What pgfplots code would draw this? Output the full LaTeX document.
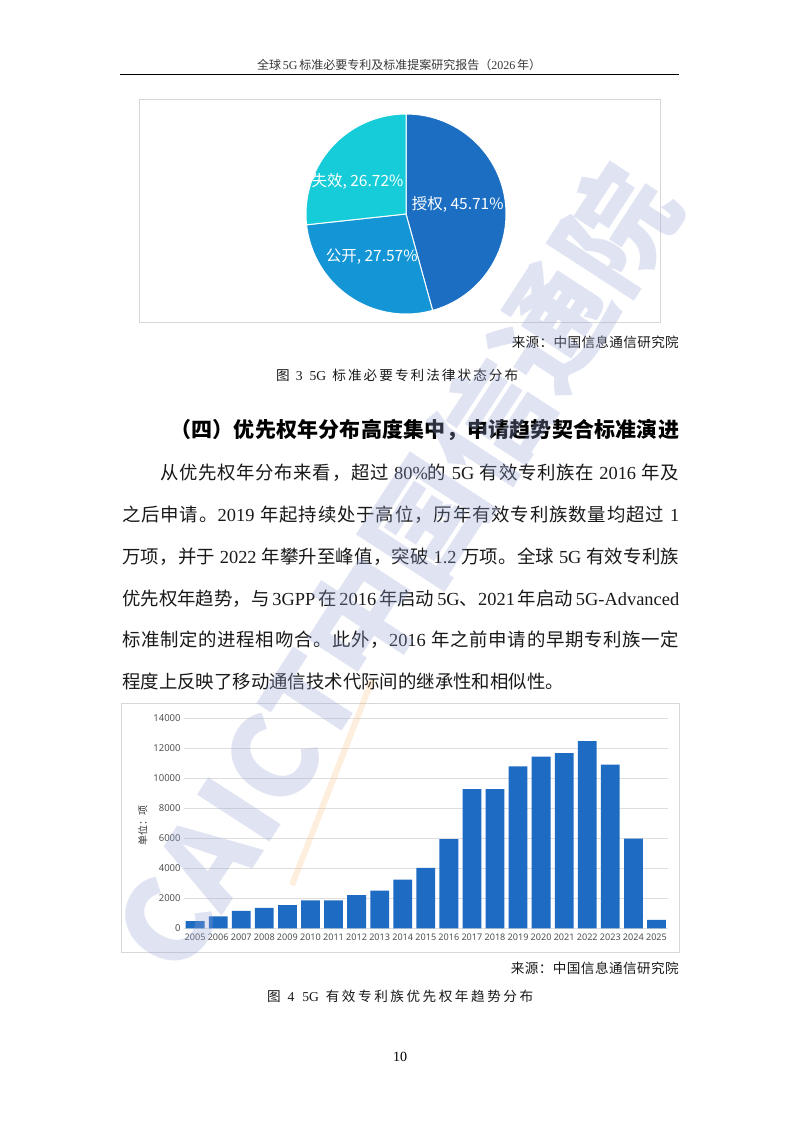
\documentclass[border=0pt]{standalone}
\usepackage{pgfplots}
\pgfplotsset{compat=1.18}
\usepackage{pgfplotstable}
\usepackage{fontspec}
\setmainfont{Liberation Serif}
\newfontfamily\cjk{Noto Sans CJK SC}
\newfontfamily\ui{Noto Sans}

% stretchable glue between CJK characters, so lines can be justified
\XeTeXinterchartokenstate=1
\newXeTeXintercharclass\CJKc
\newcount\cc
\cc="4E00 \loop \XeTeXcharclass\cc=\CJKc \advance\cc by 1 \ifnum\cc<"A000 \repeat
\cc="3000 \loop \XeTeXcharclass\cc=\CJKc \advance\cc by 1 \ifnum\cc<"3040 \repeat
\cc="FF00 \loop \XeTeXcharclass\cc=\CJKc \advance\cc by 1 \ifnum\cc<"FFF0 \repeat
\XeTeXinterchartoks\CJKc\CJKc={\hskip0pt plus 1pt\relax}
\XeTeXinterchartoks\CJKc 0={\hskip0pt plus 1pt\relax}
\XeTeXinterchartoks 0\CJKc={\hskip0pt plus 1pt\relax}

\definecolor{sqblue}{RGB}{27,110,194}
\definecolor{gkblue}{RGB}{20,150,214}
\definecolor{sxcyan}{RGB}{22,204,216}
\definecolor{barblue}{RGB}{30,107,196}
\definecolor{gridgray}{RGB}{222,222,222}
\definecolor{framegray}{RGB}{215,215,215}
\definecolor{ticktext}{RGB}{80,80,80}
\definecolor{bodytext}{RGB}{25,25,25}
\definecolor{wmblue}{RGB}{150,165,215}
\definecolor{wmorange}{RGB}{248,190,120}

\newcommand\lt[1]{{\rmfamily#1}}
\newcommand\bodyfont{\cjk\fontsize{18.4}{20}\selectfont}
\newcommand\smallfont{\cjk\fontsize{13.6}{15}\selectfont}

\pgfplotstableread{
label value
授权 45.71
公开 27.57
失效 26.72
}\piedata

\pgfplotstableread{
year value
2005 480
2006 790
2007 1170
2008 1360
2009 1540
2010 1870
2011 1860
2012 2220
2013 2510
2014 3250
2015 4030
2016 5940
2017 9280
2018 9280
2019 10800
2020 11440
2021 11680
2022 12480
2023 10910
2024 5980
2025 570
}\bardata

\begin{document}
\begin{tikzpicture}
\useasboundingbox (0,0) rectangle (800pt,-1130pt);
\fill[white] (0,0) rectangle (800pt,-1130pt);

% page header
\node[anchor=center, inner sep=0pt, text=black!78] at (399pt,-65pt)
  {\cjk\fontsize{12}{14}\selectfont\hbox to 284pt{全球 \lt{5G} 标准必要专利及标准提案研究报告（\lt{2026} 年）}};
\draw[line width=1.1pt] (120pt,-74.5pt) -- (679pt,-74.5pt);

% figure 3: pie chart
\draw[framegray, line width=0.8pt] (139pt,-99pt) rectangle (660pt,-322pt);
\pgfplotstablegetelem{0}{value}\of\piedata \let\va\pgfplotsretval
\pgfplotstablegetelem{1}{value}\of\piedata \let\vb\pgfplotsretval
\pgfplotstablegetelem{2}{value}\of\piedata \let\vc\pgfplotsretval
\pgfmathsetmacro\aB{90-3.6*\va}
\pgfmathsetmacro\aC{\aB-3.6*\vb}
\pgfmathsetmacro\aD{\aC-3.6*\vc}
\begin{axis}[at={(306pt,-314pt)}, anchor=south west, width=200pt, height=200pt,
  scale only axis, xmin=-1, xmax=1, ymin=-1, ymax=1, hide axis, clip=false]
  \filldraw[fill=sqblue, draw=white, line width=1pt] (axis cs:0,0) -- (axis cs:0,1)
    arc[start angle=90, end angle=\aB, radius=100pt] -- cycle;
  \filldraw[fill=gkblue, draw=white, line width=1pt] (axis cs:0,0) -- (axis cs:{cos(\aB)},{sin(\aB)})
    arc[start angle=\aB, end angle=\aC, radius=100pt] -- cycle;
  \filldraw[fill=sxcyan, draw=white, line width=1pt] (axis cs:0,0) -- (axis cs:{cos(\aC)},{sin(\aC)})
    arc[start angle=\aC, end angle=\aD, radius=100pt] -- cycle;
  \node[text=white, font=\cjk\fontsize{15.5}{17}\selectfont] at (axis cs:0.517,0.10) {授权, 45.71\%};
  \node[text=white, font=\cjk\fontsize{15.5}{17}\selectfont] at (axis cs:-0.343,-0.427) {公开, 27.57\%};
  \node[text=white, font=\cjk\fontsize{15.5}{17}\selectfont] at (axis cs:-0.485,0.323) {失效, 26.72\%};
\end{axis}

\node[anchor=east, inner sep=0pt, text=bodytext] at (679pt,-342pt)
  {\smallfont\hbox to 167pt{来源：中国信息通信研究院}};
\node[anchor=west, inner sep=0pt, text=bodytext] at (276pt,-375pt)
  {\smallfont\hbox to 242pt{图 \lt{3 5G} 标准必要专利法律状态分布}};

% section heading and paragraph
\node[anchor=west, inner sep=0pt, text=black] at (170pt,-430pt)
  {\cjk\bfseries\fontsize{21}{23}\selectfont\hbox to 509pt{（四）优先权年分布高度集中，申请趋势契合标准演进}};
\begin{scope}[every node/.style={anchor=west, inner sep=0pt, text=bodytext}]
\node at (160pt,-473pt) {\bodyfont\hbox to 519pt{从优先权年分布来看，超过 \lt{80\%}的 \lt{5G} 有效专利族在 \lt{2016} 年及}};
\node at (122pt,-515pt) {\bodyfont\hbox to 557pt{之后申请。\lt{2019} 年起持续处于高位，历年有效专利族数量均超过 \lt{1}}};
\node at (122pt,-556.7pt) {\bodyfont\hbox to 557pt{万项，并于 \lt{2022} 年攀升至峰值，突破 \lt{1.2} 万项。全球 \lt{5G} 有效专利族}};
\node at (122pt,-598.3pt) {\bodyfont\hbox to 557pt{优先权年趋势，与 \lt{3GPP} 在 \lt{2016} 年启动 \lt{5G}、\lt{2021} 年启动 \lt{5G-Advanced}}};
\node at (122pt,-639.3pt) {\bodyfont\hbox to 557pt{标准制定的进程相吻合。此外，\lt{2016} 年之前申请的早期专利族一定}};
\node at (122pt,-681.7pt) {\bodyfont 程度上反映了移动通信技术代际间的继承性和相似性。};
\end{scope}

% figure 4: bar chart
\draw[framegray, line width=0.8pt] (121pt,-703pt) rectangle (679pt,-952pt);
\begin{axis}[at={(183.6pt,-928.3pt)}, anchor=south west,
  width=484.4pt, height=210pt, scale only axis,
  xmin=-0.5, xmax=20.5, ymin=0, ymax=14000,
  ybar, bar width=18.8pt,
  xtick={0,...,20}, xticklabels from table={\bardata}{year},
  ytick={0,2000,...,14000},
  ymajorgrids, grid style={gridgray, line width=0.6pt},
  axis line style={draw=none}, major tick length=0pt,
  scaled y ticks=false,
  /pgf/number format/assume math mode=true,
  /pgf/number format/1000 sep={},
  tick label style={font=\ui\fontsize{9.5}{10}\selectfont, text=ticktext},
  xticklabel style={yshift=-2.5pt, font=\ui\fontsize{9.1}{10}\selectfont},
  yticklabel style={xshift=0.5pt},
  clip=false]
  \addplot[fill=barblue, draw=none] table[x expr=\coordindex, y=value] {\bardata};
\end{axis}
\node[rotate=90, text=black!80, font=\cjk\fontsize{10}{11}\selectfont] at (142.7pt,-825pt) {单位：项};

\node[anchor=east, inner sep=0pt, text=bodytext] at (679pt,-968pt)
  {\smallfont\hbox to 168pt{来源：中国信息通信研究院}};
\node[anchor=west, inner sep=0pt, text=bodytext] at (267pt,-996pt)
  {\smallfont\hbox to 266pt{图 \lt{4 5G} 有效专利族优先权年趋势分布}};

% page number
\node at (400pt,-1057pt) {\rmfamily\fontsize{14}{16}\selectfont 10};

% watermark
\draw[wmorange, opacity=0.25, line width=6pt] (292pt,-885pt) -- (372pt,-680pt);
\node[rotate=57, opacity=0.3, text=wmblue, inner sep=0pt,
  font=\cjk\bfseries\fontsize{116}{116}\selectfont] at (395pt,-568pt) {CAICT中国信通院};
\end{tikzpicture}
\end{document}
